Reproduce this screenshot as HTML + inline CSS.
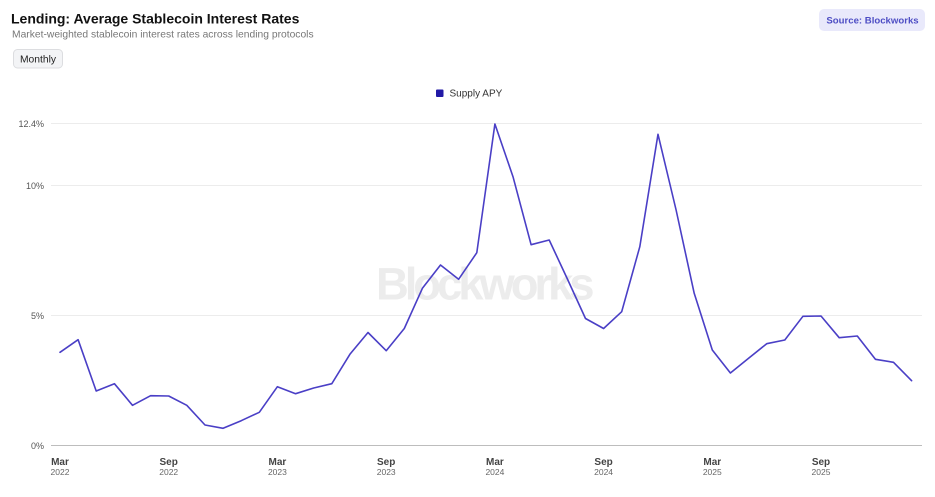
<!DOCTYPE html>
<html><head><meta charset="utf-8"><style>
html,body{margin:0;padding:0;background:#fff;}
body{width:935px;height:497px;overflow:hidden;position:relative;font-family:"Liberation Sans",Arial,sans-serif;}
svg{position:absolute;left:0;top:0;}
</style></head><body>
<svg width="935" height="497" viewBox="0 0 935 497" xmlns="http://www.w3.org/2000/svg" font-family="Liberation Sans, Arial, sans-serif">
  <!-- header -->
  <text x="11" y="23.5" font-size="14" font-weight="bold" fill="#111">Lending: Average Stablecoin Interest Rates</text>
  <text x="12" y="37.5" font-size="10.3" fill="#777">Market-weighted stablecoin interest rates across lending protocols</text>
  <rect x="13.5" y="49.5" width="49" height="18.5" rx="4" fill="#f3f4f6" stroke="#dcdde0"/>
  <text x="38" y="62.5" font-size="10.3" fill="#222" text-anchor="middle">Monthly</text>
  <rect x="819" y="9" width="106" height="22" rx="5" fill="#e9e9fb"/>
  <text x="872.5" y="23.5" font-size="9.6" font-weight="bold" fill="#4d4dc4" text-anchor="middle">Source: Blockworks</text>

  <!-- legend -->
  <rect x="436" y="89.5" width="7.5" height="7.5" rx="1" fill="#2219a6"/>
  <text x="449.5" y="96.5" font-size="10" fill="#333">Supply APY</text>

  <!-- watermark -->
  <text x="376" y="299.5" font-size="45.5" font-weight="bold" fill="#ececec" letter-spacing="-4.1">Blockworks</text>

  <!-- grid -->
  <g stroke="#ececec" stroke-width="1">
    <line x1="51" y1="123.5" x2="922" y2="123.5"/>
    <line x1="51" y1="185.5" x2="922" y2="185.5"/>
    <line x1="51" y1="315.5" x2="922" y2="315.5"/>
  </g>
  <line x1="51" y1="445.5" x2="922" y2="445.5" stroke="#bdbdbd" stroke-width="1"/>

  <!-- y labels -->
  <g font-size="9" fill="#555" text-anchor="end">
    <text x="44" y="127">12.4%</text>
    <text x="44" y="189">10%</text>
    <text x="44" y="319">5%</text>
    <text x="44" y="449">0%</text>
  </g>

  <!-- x labels -->
  <g text-anchor="middle">
    <g font-size="10" font-weight="bold" fill="#444">
      <text x="60" y="465">Mar</text>
      <text x="168.7" y="465">Sep</text>
      <text x="277.4" y="465">Mar</text>
      <text x="386.2" y="465">Sep</text>
      <text x="494.9" y="465">Mar</text>
      <text x="603.6" y="465">Sep</text>
      <text x="712.3" y="465">Mar</text>
      <text x="821" y="465">Sep</text>
    </g>
    <g font-size="8.5" fill="#666">
      <text x="60" y="475">2022</text>
      <text x="168.7" y="475">2022</text>
      <text x="277.4" y="475">2023</text>
      <text x="386.2" y="475">2023</text>
      <text x="494.9" y="475">2024</text>
      <text x="603.6" y="475">2024</text>
      <text x="712.3" y="475">2025</text>
      <text x="821" y="475">2025</text>
    </g>
  </g>

  <!-- series -->
  <polyline fill="none" stroke="#4a3fc6" stroke-width="1.6" stroke-linejoin="round" stroke-linecap="round" points="
60,352.3 78.1,339.7 96.2,391 114.4,383.7 132.5,405.3 150.6,395.7 168.7,396 186.8,405.3 205,425 223.1,428.3
241.2,420.7 259.3,412.3 277.4,386.7 295.6,393.7 313.7,388 331.8,383.7 349.9,354.3 368,332.5 386.2,350.7 404.3,328.5
422.4,288.3 440.5,265 458.6,279.3 476.8,252.7 494.9,124 513,176.7 531.1,244.7 549.2,240 567.4,279 585.5,318.5
603.6,328.5 621.7,311.7 639.8,246.7 658,134.3 676.1,210 694.2,293.3 712.3,350 730.4,373 748.6,358.3 766.7,343.7
784.8,340 802.9,316.3 821,316 839.2,337.7 857.3,336 875.4,359.3 893.5,362.3 911.6,380.7"/>
</svg>
</body></html>
